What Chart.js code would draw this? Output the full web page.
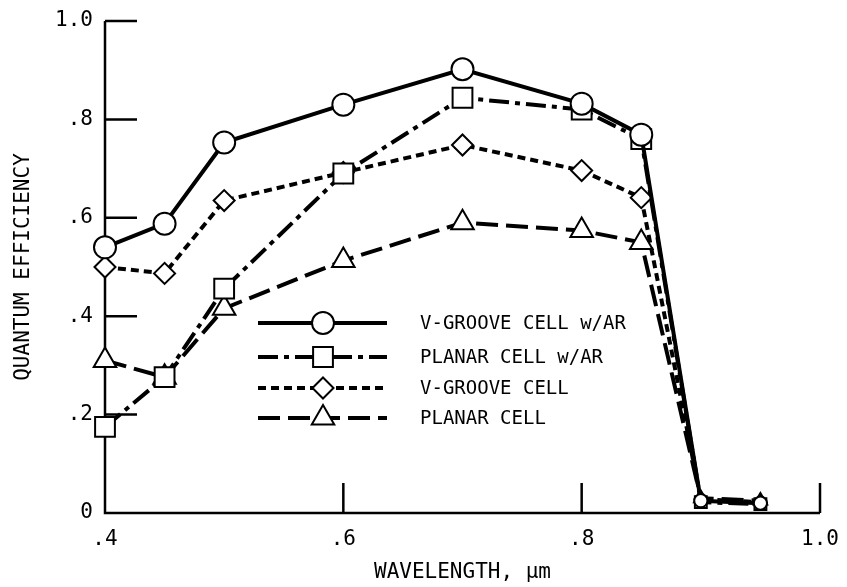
<!DOCTYPE html>
<html>
<head>
<meta charset="utf-8">
<script src="https://cdn.jsdelivr.net/npm/chart.js@4"></script>
<style>
  html, body { margin: 0; padding: 0; background: #fff; }
  #wrap { width: 847px; height: 587px; position: relative; }
</style>
</head>
<body>
<div id="wrap"><canvas id="myChart"></canvas></div>
<script>
// wavelength in micrometres
const wavelength = [0.40, 0.45, 0.50, 0.60, 0.70, 0.80, 0.85, 0.90, 0.95];

// quantum efficiency
const vGrooveAR = [0.540, 0.588, 0.753, 0.830, 0.902, 0.832, 0.769, 0.025, 0.020];
const planarAR  = [0.175, 0.276, 0.456, 0.690, 0.844, 0.820, 0.760, 0.022, 0.018];
const vGroove   = [0.500, 0.487, 0.635, 0.692, 0.748, 0.696, 0.641, 0.028, 0.022];
const planar    = [0.310, 0.276, 0.416, 0.513, 0.590, 0.574, 0.550, 0.030, 0.025];

const seriesNames = ['V-GROOVE CELL w/AR', 'PLANAR CELL w/AR', 'V-GROOVE CELL', 'PLANAR CELL'];

const xTicks = [0.4, 0.6, 0.8, 1.0];
const yTicks = [0, 0.2, 0.4, 0.6, 0.8, 1.0];

const FONT = 'DejaVu Sans Mono';

function fmt(v) {
  if (Math.abs(v) < 1e-9) return '0';
  if (Math.abs(v - 1) < 1e-9) return '1.0';
  return v.toFixed(1).replace(/^0/, '');
}

function pts(ys) {
  return wavelength.map((x, i) => ({ x: x, y: ys[i] }));
}

const styles = [
  { dash: [], point: 'circle', radius: 11 },
  { dash: [20, 6, 5, 6], point: 'rect', radius: 14 },
  { dash: [8, 5], point: 'rectRot', radius: 10.5 },
  { dash: [22, 8], point: 'triangle', radius: 13 }
];

const allSeries = [vGrooveAR, planarAR, vGroove, planar];

// the points near zero are drawn smaller in the original
const datasets = allSeries.map((ys, i) => ({
  label: seriesNames[i],
  data: pts(ys),
  borderColor: '#000',
  borderWidth: 4,
  borderDash: styles[i].dash,
  pointStyle: styles[i].point,
  pointRadius: wavelength.map(w => w > 0.87 ? styles[i].radius * 0.6 : styles[i].radius),
  pointBackgroundColor: '#fff',
  pointBorderColor: '#000',
  pointBorderWidth: 2,
  tension: 0,
  clip: false
}));

// axes drawn by hand with inward ticks
const axesPlugin = {
  id: 'axes',
  beforeDatasetsDraw(chart) {
    const ctx = chart.ctx;
    const xs = chart.scales.x, ys = chart.scales.y;
    const x0 = xs.getPixelForValue(0.4), x1 = xs.getPixelForValue(1.0);
    const y0 = ys.getPixelForValue(0), y1 = ys.getPixelForValue(1.0);
    ctx.save();
    ctx.strokeStyle = '#000';
    ctx.lineWidth = 2.5;
    ctx.setLineDash([]);
    ctx.beginPath();
    ctx.moveTo(x0, y1);
    ctx.lineTo(x0, y0);
    ctx.lineTo(x1, y0);
    yTicks.forEach(v => {
      if (v === 0) return;
      const p = ys.getPixelForValue(v);
      ctx.moveTo(x0, p);
      ctx.lineTo(x0 + 32, p);
    });
    xTicks.forEach(v => {
      if (v === 0.4) return;
      const p = xs.getPixelForValue(v);
      ctx.moveTo(p, y0);
      ctx.lineTo(p, y0 - 30);
    });
    ctx.stroke();
    ctx.restore();
  }
};

// legend with line + marker samples
const legendPlugin = {
  id: 'lineLegend',
  afterDatasetsDraw(chart) {
    const ctx = chart.ctx;
    const rows = [323, 357, 388, 418];
    ctx.save();
    seriesNames.forEach((name, i) => {
      const y = rows[i];
      ctx.strokeStyle = '#000';
      ctx.lineWidth = 4;
      ctx.setLineDash(styles[i].dash);
      ctx.beginPath();
      ctx.moveTo(258, y);
      ctx.lineTo(387, y);
      ctx.stroke();
      ctx.setLineDash([]);
      ctx.fillStyle = '#fff';
      ctx.lineWidth = 2;
      Chart.helpers.drawPoint(ctx, { pointStyle: styles[i].point, radius: styles[i].radius, rotation: 0, borderWidth: 2 }, 323, y);
      ctx.fillStyle = '#000';
      ctx.font = '19px "' + FONT + '"';
      ctx.textBaseline = 'middle';
      ctx.textAlign = 'left';
      ctx.fillText(name, 420, y + 1);
    });
    ctx.restore();
  }
};

new Chart(document.getElementById('myChart'), {
  type: 'line',
  data: { datasets: datasets },
  plugins: [axesPlugin, legendPlugin],
  options: {
    responsive: true,
    maintainAspectRatio: false,
    animation: false,
    layout: { padding: { top: 21, right: 27, left: 0, bottom: 0 } },
    plugins: { legend: { display: false }, tooltip: { enabled: false } },
    scales: {
      x: {
        type: 'linear',
        min: 0.4,
        max: 1.0,
        border: { display: false },
        grid: { display: false, drawTicks: false },
        afterBuildTicks: s => { s.ticks = xTicks.map(v => ({ value: v })); },
        afterFit: s => { s.height = 74; s.paddingLeft = 0; s.paddingRight = 0; },
        ticks: {
          color: '#000',
          padding: 14,
          font: { family: FONT, size: 21 },
          callback: v => fmt(v)
        },
        title: {
          display: true,
          text: 'WAVELENGTH, μm',
          color: '#000',
          font: { family: FONT, size: 21 },
          padding: { top: 0, bottom: 2 }
        }
      },
      y: {
        min: 0,
        max: 1.0,
        border: { display: false },
        grid: { display: false, drawTicks: false },
        afterBuildTicks: s => { s.ticks = yTicks.map(v => ({ value: v })); },
        afterFit: s => { s.width = 105; s.paddingTop = 0; s.paddingBottom = 0; },
        ticks: {
          color: '#000',
          padding: 12,
          font: { family: FONT, size: 21 },
          callback: v => fmt(v)
        },
        title: {
          display: true,
          text: 'QUANTUM EFFICIENCY',
          color: '#000',
          font: { family: FONT, size: 21 },
          padding: { top: 11, bottom: 0 }
        }
      }
    }
  }
});
</script>
</body>
</html>
